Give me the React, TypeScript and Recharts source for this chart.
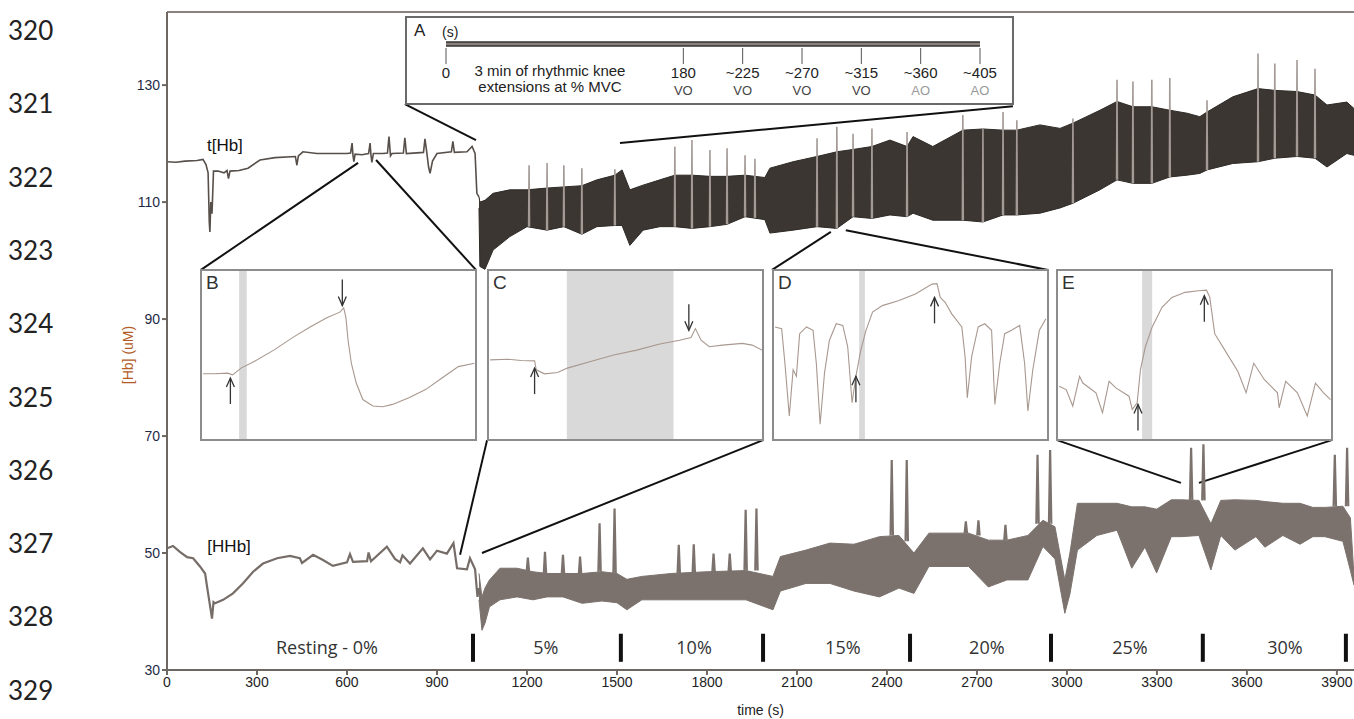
import React from "react";
import {
  ComposedChart,
  LineChart,
  Line,
  Area,
  XAxis,
  YAxis,
  ReferenceLine,
  ReferenceArea,
  ReferenceDot,
} from "recharts";

const FONT = "'Liberation Sans', Arial, sans-serif";
const NARROW = "'Liberation Sans Narrow', 'Liberation Sans', Arial, sans-serif";

// manuscript line numbers down the left margin
const lineNumbers = ["320", "321", "322", "323", "324", "325", "326", "327", "328", "329"];

// axis ticks
const timeTicks = [0, 300, 600, 900, 1200, 1500, 1800, 2100, 2400, 2700, 3000, 3300, 3600, 3900];
const hbTicks = [30, 50, 70, 90, 110, 130];

// t[Hb] during rest, [time s, uM]
const tHbRest: [number, number][] = [
  [0, 116.9], [30, 116.8], [60, 117.0], [100, 117.1], [120, 117.3], [130, 116.4],
  [137, 115.0], [141, 106.5], [143, 104.9], [146, 110.0], [150, 108.0], [155, 115.3],
  [170, 115.3], [190, 115.0], [200, 115.4], [205, 114.0], [210, 115.3], [240, 115.4],
  [270, 115.8], [310, 117.2], [360, 117.6], [428, 117.8], [433, 116.3], [438, 117.9],
  [453, 118.6], [500, 118.3], [600, 118.3], [612, 118.4], [617, 120.1], [620, 118.0],
  [623, 116.9], [627, 118.2], [650, 118.1], [672, 118.3], [677, 120.1], [680, 118.0],
  [683, 116.8], [688, 118.3], [720, 118.3], [735, 118.4], [740, 121.2], [745, 117.9],
  [750, 118.3], [788, 118.4], [793, 121.0], [798, 118.3], [855, 118.5], [860, 120.8],
  [866, 118.5], [872, 116.0], [877, 114.9], [885, 117.0], [900, 118.3], [948, 118.6],
  [953, 120.4], [958, 118.5], [1000, 118.6], [1017, 119.5], [1027, 118.3], [1033, 111.5],
  [1040, 110.9],
];

// t[Hb] during exercise: envelope of the fast oscillations
const tHbBandTime = [
  1040, 1043, 1060, 1087, 1143, 1200, 1267, 1323, 1383, 1433, 1493, 1517, 1543, 1587,
  1643, 1693, 1750, 1810, 1867, 1927, 1993, 2010, 2087, 2167, 2233, 2287, 2350, 2410,
  2467, 2487, 2553, 2653, 2720, 2787, 2833, 2910, 2977, 3020, 3110, 3167, 3220, 3283,
  3343, 3400, 3443, 3467, 3553, 3637, 3693, 3767, 3827, 3867, 3933, 3957,
];
const tHbBandLow = [
  109.0, 99.0, 98.5, 101.8, 104.1, 105.8, 105.2, 105.8, 104.5, 105.8, 106.0, 106.0, 102.6, 105.2,
  105.8, 105.8, 105.5, 105.8, 106.2, 107.5, 107.0, 104.7, 105.2, 105.8, 105.5, 107.5, 107.2, 107.8,
  107.5, 108.1, 106.9, 106.9, 106.6, 107.8, 107.8, 108.1, 109.0, 109.8, 112.1, 113.8, 113.2, 113.2,
  114.3, 114.6, 114.9, 115.5, 116.6, 116.9, 117.5, 117.8, 117.5, 116.0, 118.3, 118.0,
];
const tHbBandHigh = [
  110.9, 110.0, 110.3, 111.5, 112.1, 112.1, 112.4, 112.6, 112.8, 113.8, 114.6, 115.5, 112.1, 112.9,
  113.8, 114.6, 114.6, 114.4, 114.4, 114.6, 114.2, 115.8, 116.9, 117.8, 118.6, 119.0, 119.5, 120.6,
  119.5, 121.2, 119.5, 122.3, 122.5, 122.3, 122.3, 123.2, 122.6, 123.5, 125.7, 127.2, 126.3, 126.3,
  125.7, 125.2, 124.6, 125.4, 128.0, 129.4, 129.1, 128.9, 128.3, 126.6, 127.1, 126.0,
];
// t[Hb] spikes: [time, foot, peak]
const tHbSpikes: [number, number, number][] = [
  [1207, 105.8, 116.3], [1267, 105.2, 116.7], [1323, 105.8, 116.3], [1383, 104.5, 115.8],
  [1493, 106.0, 115.6], [1693, 105.8, 119.5], [1750, 105.5, 120.6], [1810, 105.8, 118.9],
  [1867, 106.2, 119.2], [1927, 107.5, 118.0], [1960, 107.3, 117.4], [2167, 105.8, 120.9],
  [2233, 105.5, 122.9], [2287, 107.5, 121.7], [2350, 107.2, 122.6], [2467, 107.5, 122.0],
  [2653, 106.9, 124.9], [2720, 106.6, 122.6], [2787, 107.8, 125.4], [2833, 107.8, 124.0],
  [3020, 109.8, 124.3], [3167, 113.8, 130.9], [3220, 113.2, 130.6], [3283, 113.2, 130.9],
  [3343, 114.3, 131.2], [3467, 115.5, 127.4], [3637, 116.9, 135.4], [3693, 117.5, 133.7],
  [3767, 117.8, 134.3], [3827, 117.5, 132.8],
];

// [HHb] during rest
const hhbRest: [number, number][] = [
  [0, 50.8], [20, 51.2], [43, 50.2], [67, 49.3], [87, 49.1], [110, 47.7], [127, 46.5],
  [137, 43.1], [145, 40.5], [150, 38.8], [155, 41.6], [160, 41.4], [187, 42.0], [220, 43.1],
  [253, 44.8], [287, 46.8], [320, 48.2], [367, 49.1], [410, 49.5], [443, 49.1], [450, 48.3],
  [487, 49.7], [520, 48.8], [553, 47.8], [600, 48.4], [610, 49.8], [620, 48.5], [667, 48.6],
  [672, 50.1], [680, 48.6], [733, 51.1], [760, 49.0], [777, 48.4], [785, 49.6], [810, 48.2],
  [853, 50.8], [877, 48.9], [900, 50.4], [933, 49.9], [955, 51.7], [967, 47.4], [1000, 47.2],
  [1010, 49.1], [1027, 47.2], [1035, 42.5], [1040, 44.0],
];
// [HHb] during exercise: envelope
const hhbBandTime = [
  1040, 1050, 1060, 1075, 1110, 1167, 1220, 1267, 1320, 1384, 1450, 1500, 1533, 1583,
  1681, 1800, 1930, 2020, 2045, 2130, 2210, 2290, 2375, 2440, 2490, 2540, 2610, 2672,
  2738, 2800, 2870, 2920, 2960, 2993, 3010, 3035, 3100, 3167, 3216, 3260, 3299, 3348,
  3381, 3440, 3480, 3513, 3560, 3630, 3660, 3720, 3777, 3820, 3860, 3920, 3945, 3957,
];
const hhbBandLow = [
  42.0, 36.8, 38.0, 40.8, 42.0, 42.5, 42.0, 42.5, 42.5, 41.4, 41.8, 41.5, 40.3, 42.0,
  42.0, 42.0, 42.0, 40.3, 43.5, 44.8, 44.8, 43.5, 42.5, 44.0, 43.1, 47.7, 47.7, 47.7,
  44.2, 45.4, 45.4, 51.1, 49.0, 39.7, 43.0, 50.5, 53.0, 53.9, 47.4, 51.0, 46.6, 52.8,
  52.8, 53.0, 47.1, 53.0, 50.5, 52.8, 51.0, 53.0, 51.5, 52.8, 52.8, 52.0, 47.0, 44.5,
];
const hhbBandHigh = [
  46.5, 42.5, 44.0, 45.4, 47.4, 47.4, 46.8, 46.5, 46.5, 46.5, 46.8, 46.5, 45.5, 46.0,
  46.5, 46.8, 47.0, 46.0, 49.4, 50.5, 51.7, 51.5, 52.8, 53.0, 50.0, 53.4, 53.4, 53.4,
  52.2, 52.2, 53.0, 55.6, 54.5, 45.4, 50.0, 58.5, 58.5, 58.5, 57.9, 57.9, 57.5, 59.1,
  59.1, 59.0, 55.0, 59.0, 59.1, 59.0, 58.8, 58.5, 58.5, 57.8, 57.8, 58.0, 56.0, 46.0,
];
// [HHb] spikes: [time, foot, peak]
const hhbSpikes: [number, number, number][] = [
  [1203, 46.8, 49.2], [1260, 46.5, 50.2], [1320, 46.5, 49.7], [1377, 46.5, 49.4],
  [1442, 46.8, 55.1], [1492, 46.5, 57.6], [1706, 46.5, 51.4], [1756, 46.5, 51.5],
  [1822, 46.8, 49.9], [1876, 46.8, 49.9], [1929, 47.0, 57.4], [1965, 47.0, 57.6],
  [2416, 53.0, 65.9], [2466, 52.0, 65.9], [2663, 53.4, 55.4], [2705, 53.0, 55.6],
  [2795, 52.2, 54.8], [2902, 55.0, 66.8], [2944, 55.0, 67.6], [3414, 59.0, 68.0],
  [3455, 59.0, 68.6], [3893, 58.0, 66.8], [3934, 58.0, 68.0],
];

// exercise stages
const stageBreaks = [1020, 1513, 1987, 2477, 2947, 3453, 3930];
const stageNames = ["Resting - 0%", "5%", "10%", "15%", "20%", "25%", "30%"];
const stageLabelTime = [533, 1263, 1757, 2253, 2733, 3210, 3727];

// zoom connector lines, [t1, v1, t2, v2]
const zoomLinks: [number, number, number, number][] = [
  [793, 126.75, 1030, 120.6], [2820, 126.4, 1510, 120.1],
  [637, 116.7, 113, 98.4], [697, 117.2, 1030, 98.4],
  [1067, 69.3, 977, 49.7], [1987, 69.3, 1050, 50.0],
  [2017, 98.4, 2213, 104.9], [2937, 98.4, 2263, 105.2],
  [2967, 69.3, 3380, 62.0], [3883, 69.3, 3440, 62.0],
];

// inset A: protocol timeline
const timelineTicks = [0, 180, 225, 270, 315, 360, 405];
const timelineLabels = ["0", "180", "~225", "~270", "~315", "~360", "~405"];
const timelineState = ["", "VO", "VO", "VO", "VO", "AO", "AO"];

// insets B-E: traces in relative units (0-100 across, 0-100 up)
const insetB: [number, number][] = [
  [0.4, 38.8], [4.6, 38.8], [9.4, 39.2], [11.2, 38.2], [14.3, 42.2], [19.1, 46.1], [26.3, 52.9],
  [33.6, 60.8], [39.6, 66.7], [45.7, 72.2], [50.5, 75.5], [51.9, 78.0], [52.7, 72.5], [53.5, 58.8],
  [54.7, 45.1], [56.5, 33.3], [58.9, 23.5], [62.6, 19.6], [66.2, 19.2], [69.8, 20.6], [75.8, 24.5],
  [81.9, 29.4], [87.9, 36.3], [93.9, 43.1], [99.8, 45.1],
];
const insetC: [number, number][] = [
  [0.4, 47.1], [7, 47.5], [11.8, 46.7], [16.7, 46.5], [17.3, 41.2], [20.3, 38.8], [25.1, 39.6],
  [28.7, 42.2], [37.2, 46.1], [45.7, 50.0], [54.1, 52.9], [62.6, 56.5], [69.8, 58.8], [74.0, 60.4],
  [75.6, 65.7], [77.7, 58.8], [80.7, 54.9], [85.5, 55.9], [92.8, 56.9], [96.4, 55.9], [100, 52.9],
];
const insetD: [number, number][] = [
  [0.4, 66.7], [2.8, 65.7], [4, 45.1], [5.6, 13.7], [7, 41.2], [8.2, 37.3], [9.4, 62.7], [11.9, 66.7],
  [14.3, 64.7], [15.5, 45.1], [16.9, 8.8], [18.5, 39.2], [20.3, 58.8], [22.8, 68.6], [25.2, 67.6],
  [27, 54.9], [28.6, 21.6], [30, 37.3], [31.8, 52.9], [33.7, 64.7], [36.1, 75.5], [39.7, 79.4],
  [45.8, 82.4], [51.8, 86.3], [57.9, 92.2], [59.7, 92.5], [60.9, 84.3], [62.7, 81.4], [65.1, 74.5],
  [68.8, 66.7], [70, 49], [70.8, 24.5], [72.4, 49], [74.8, 66.7], [77.2, 68.6], [79.7, 64.7],
  [80.9, 20.6], [82.7, 45.1], [84.5, 62.7], [87, 64.7], [90, 67.6], [91.8, 45.1], [93, 16.7],
  [94.8, 41.2], [97.2, 64.7], [99.6, 71.6],
];
const insetE: [number, number][] = [
  [0.4, 31.4], [3, 29.4], [5.4, 19.6], [7.9, 37.3], [9.1, 33.3], [13.9, 27.5], [16.3, 15.7],
  [18.7, 34.3], [21.2, 30.4], [26, 25.5], [27.2, 17.6], [29, 21.6], [30.2, 41.2], [32, 54.9],
  [34.5, 66.7], [38.1, 78.4], [41.7, 84.3], [46.6, 87.3], [51.4, 88.2], [54.4, 88.6], [55.6, 84.3],
  [57.4, 62.7], [61.1, 52.9], [65.9, 40.2], [68.9, 27.5], [71.7, 45.1], [75.6, 35.3], [80.4, 27.5],
  [81, 18.6], [83.4, 34.3], [87.7, 27.5], [91.3, 13.7], [94.3, 33.3], [97.3, 27.5], [99.8, 23.5],
];
// [x, y, direction] of the arrow tips
const arrowsB: [number, number, string][] = [[10.4, 36.3, "up"], [51.4, 79.4, "down"]];
const arrowsC: [number, number, string][] = [[16.7, 42.2, "up"], [73.2, 64.7, "down"]];
const arrowsD: [number, number, string][] = [[30, 37.3, "up"], [58.8, 84.3, "up"]];
const arrowsE: [number, number, string][] = [[29.3, 20.6, "up"], [53.6, 85.3, "up"]];

const band = (time: number[], low: number[], high: number[]) =>
  time.map((t, i) => ({ t, r: [low[i], high[i]] }));

const spikeLines = (spikes: [number, number, number][], half: number) =>
  spikes.flatMap(([t, foot, peak]) => [
    { t: t - half, v: foot },
    { t, v: peak },
    { t: t + half, v: foot },
    { t: t + half, v: null },
  ]);

function Arrow(props: any) {
  const { cx, cy, dir } = props;
  if (cx == null || cy == null) return null;
  const s = dir === "up" ? 1 : -1;
  return (
    <g stroke="#333" strokeWidth={1.3} fill="none">
      <path d={`M${cx},${cy + s * 26} L${cx},${cy}`} />
      <path d={`M${cx - 4},${cy + s * 9} L${cx},${cy} L${cx + 4},${cy + s * 9}`} />
    </g>
  );
}

function Inset({ id, left, trace, shade, arrows }: any) {
  const data = trace.map(([x, y]: [number, number]) => ({ x, y }));
  return (
    <div
      style={{
        position: "absolute",
        left,
        top: 269,
        width: 277,
        height: 172,
        boxSizing: "border-box",
        border: "2px solid #8c8c8c",
        background: "#fff",
      }}
    >
      <LineChart width={273} height={168} margin={{ top: 0, right: 0, bottom: 0, left: 0 }}>
        <XAxis type="number" dataKey="x" domain={[0, 100]} hide />
        <YAxis type="number" domain={[0, 100]} hide />
        <ReferenceArea x1={shade[0]} x2={shade[1]} y1={0} y2={100} fill="#d9d9d9" fillOpacity={1} stroke="none" />
        <Line
          data={data}
          dataKey="y"
          type="linear"
          stroke="#a8988f"
          strokeWidth={1.1}
          dot={false}
          isAnimationActive={false}
        />
        {arrows.map(([x, y, dir]: [number, number, string], i: number) => (
          <ReferenceDot key={i} x={x} y={y} r={0} shape={(p: any) => <Arrow {...p} dir={dir} />} />
        ))}
      </LineChart>
      <div style={{ position: "absolute", left: 4, top: 1, fontSize: 19, color: "#333", fontFamily: FONT }}>
        {id}
      </div>
    </div>
  );
}

function TimelineTick(props: any) {
  const { x, y, payload, index } = props;
  const i = timelineTicks.indexOf(payload.value);
  return (
    <g key={index}>
      <text x={x} y={y + 12} textAnchor="middle" fontSize={15} fill="#222" fontFamily={NARROW}>
        {timelineLabels[i]}
      </text>
      <text
        x={x}
        y={y + 29}
        textAnchor="middle"
        fontSize={13}
        fill={timelineState[i] === "AO" ? "#999" : "#444"}
        fontFamily={NARROW}
      >
        {timelineState[i]}
      </text>
    </g>
  );
}

function InsetA() {
  const bar = [
    { s: timelineTicks[0], v: 0.5 },
    { s: timelineTicks[timelineTicks.length - 1], v: 0.5 },
  ];
  return (
    <div
      style={{
        position: "absolute",
        left: 405,
        top: 16,
        width: 609,
        height: 89,
        boxSizing: "border-box",
        border: "2px solid #6a6a6a",
        background: "#fff",
      }}
    >
      <LineChart width={605} height={85} margin={{ top: 22, right: 32, bottom: 4, left: 39 }}>
        <XAxis
          type="number"
          dataKey="s"
          domain={[0, 405]}
          ticks={timelineTicks}
          interval={0}
          axisLine={false}
          tickSize={16}
          tickMargin={2}
          tickLine={{ stroke: "#555", strokeWidth: 1 }}
          tick={<TimelineTick />}
          height={51}
        />
        <YAxis type="number" domain={[0, 1]} hide />
        <Line data={bar} dataKey="v" stroke="#333" strokeWidth={5.5} dot={false} isAnimationActive={false} />
        <Line data={bar} dataKey="v" stroke="#8a817c" strokeWidth={2.5} dot={false} isAnimationActive={false} />
      </LineChart>
      <div style={{ position: "absolute", left: 7, top: 3, fontSize: 17, color: "#222", fontFamily: FONT }}>A</div>
      <div style={{ position: "absolute", left: 35, top: 6, fontSize: 14, color: "#222", fontFamily: NARROW }}>(s)</div>
      <div
        style={{
          position: "absolute",
          left: 58,
          top: 45,
          width: 170,
          textAlign: "center",
          fontSize: 15,
          lineHeight: "16px",
          color: "#222",
          fontFamily: NARROW,
        }}
      >
        3 min of rhythmic knee
        <br />
        extensions at % MVC
      </div>
    </div>
  );
}

export default function App() {
  return (
    <div
      style={{
        position: "absolute",
        left: 0,
        top: 0,
        width: 1354,
        height: 719,
        background: "#fff",
        overflow: "hidden",
        fontFamily: FONT,
      }}
    >
      {lineNumbers.map((n, i) => (
        <div
          key={n}
          style={{
            position: "absolute",
            left: 8,
            top: 15 + i * 73.3,
            fontSize: 26,
            lineHeight: "30px",
            color: "#222",
            fontFamily: "Lato, 'Open Sans', sans-serif",
          }}
        >
          {n}
        </div>
      ))}

      <div style={{ position: "absolute", left: 0, top: 0 }}>
        <ComposedChart width={1354} height={719} margin={{ top: 12, right: 0, bottom: 4, left: 107 }}>
          <XAxis
            type="number"
            dataKey="t"
            domain={[0, 3957]}
            ticks={timeTicks}
            interval={0}
            allowDataOverflow
            height={45}
            stroke="#6e6661"
            strokeWidth={2}
            tickSize={5}
            tick={{ fill: "#222", fontSize: 14, fontFamily: FONT }}
            label={{ value: "time (s)", position: "insideBottom", offset: 0, fill: "#222", fontSize: 14, fontFamily: FONT }}
          />
          <YAxis
            type="number"
            domain={[30, 142.5]}
            ticks={hbTicks}
            interval={0}
            allowDataOverflow
            width={60}
            stroke="#6e6661"
            strokeWidth={2}
            tickSize={5}
            tick={{ fill: "#1f2a48", fontSize: 14, fontFamily: FONT }}
          />
          <ReferenceLine y={142.5} stroke="#8a817c" strokeWidth={2} />

          {zoomLinks.map(([t1, v1, t2, v2], i) => (
            <ReferenceLine
              key={"z" + i}
              segment={[
                { x: t1, y: v1 },
                { x: t2, y: v2 },
              ]}
              stroke="#111"
              strokeWidth={2}
            />
          ))}

          <Area
            data={band(tHbBandTime, tHbBandLow, tHbBandHigh)}
            dataKey="r"
            type="linear"
            stroke="#2e2a26"
            strokeWidth={1}
            fill="#3b3631"
            fillOpacity={1}
            isAnimationActive={false}
          />
          <Line
            data={spikeLines(tHbSpikes, 1.5)}
            dataKey="v"
            type="linear"
            stroke="#a39a95"
            strokeWidth={1.6}
            dot={false}
            connectNulls={false}
            isAnimationActive={false}
          />
          <Line
            data={tHbRest.map(([t, v]) => ({ t, v }))}
            dataKey="v"
            type="linear"
            stroke="#574f4a"
            strokeWidth={1.6}
            dot={false}
            isAnimationActive={false}
          />

          <Area
            data={band(hhbBandTime, hhbBandLow, hhbBandHigh)}
            dataKey="r"
            type="linear"
            stroke="#7b726d"
            strokeWidth={1}
            fill="#7b726d"
            fillOpacity={1}
            isAnimationActive={false}
          />
          <Line
            data={spikeLines(hhbSpikes, 4)}
            dataKey="v"
            type="linear"
            stroke="#7b726d"
            strokeWidth={2.2}
            dot={false}
            connectNulls={false}
            isAnimationActive={false}
          />
          <Line
            data={hhbRest.map(([t, v]) => ({ t, v }))}
            dataKey="v"
            type="linear"
            stroke="#766d68"
            strokeWidth={2.2}
            dot={false}
            isAnimationActive={false}
          />

          {stageBreaks.map((t) => (
            <ReferenceLine
              key={"s" + t}
              segment={[
                { x: t, y: 31.4 },
                { x: t, y: 36.2 },
              ]}
              stroke="#111"
              strokeWidth={4}
            />
          ))}
          {stageNames.map((name, i) => (
            <ReferenceDot
              key={name}
              x={stageLabelTime[i]}
              y={33.8}
              r={0}
              label={{ value: name, position: "center", fill: "#333", fontSize: 18, fontFamily: "'Open Sans', sans-serif" }}
            />
          ))}
          <ReferenceDot
            x={193}
            y={119.7}
            r={0}
            label={{ value: "t[Hb]", position: "center", fill: "#111", fontSize: 17, fontFamily: FONT }}
          />
          <ReferenceDot
            x={207}
            y={51.2}
            r={0}
            label={{ value: "[HHb]", position: "center", fill: "#111", fontSize: 17, fontFamily: FONT }}
          />
        </ComposedChart>
      </div>

      <div
        style={{
          position: "absolute",
          left: 128,
          top: 355,
          transform: "translate(-50%, -50%) rotate(-90deg)",
          fontSize: 14,
          color: "#b35c26",
          whiteSpace: "nowrap",
          fontFamily: FONT,
        }}
      >
        [Hb] (uM)
      </div>

      <InsetA />
      <Inset id="B" left={200} trace={insetB} shade={[13.6, 16.4]} arrows={arrowsB} />
      <Inset id="C" left={487} trace={insetC} shade={[28.5, 67.6]} arrows={arrowsC} />
      <Inset id="D" left={772} trace={insetD} shade={[31.2, 33.3]} arrows={arrowsD} />
      <Inset id="E" left={1056} trace={insetE} shade={[30.8, 34.5]} arrows={arrowsE} />
    </div>
  );
}
